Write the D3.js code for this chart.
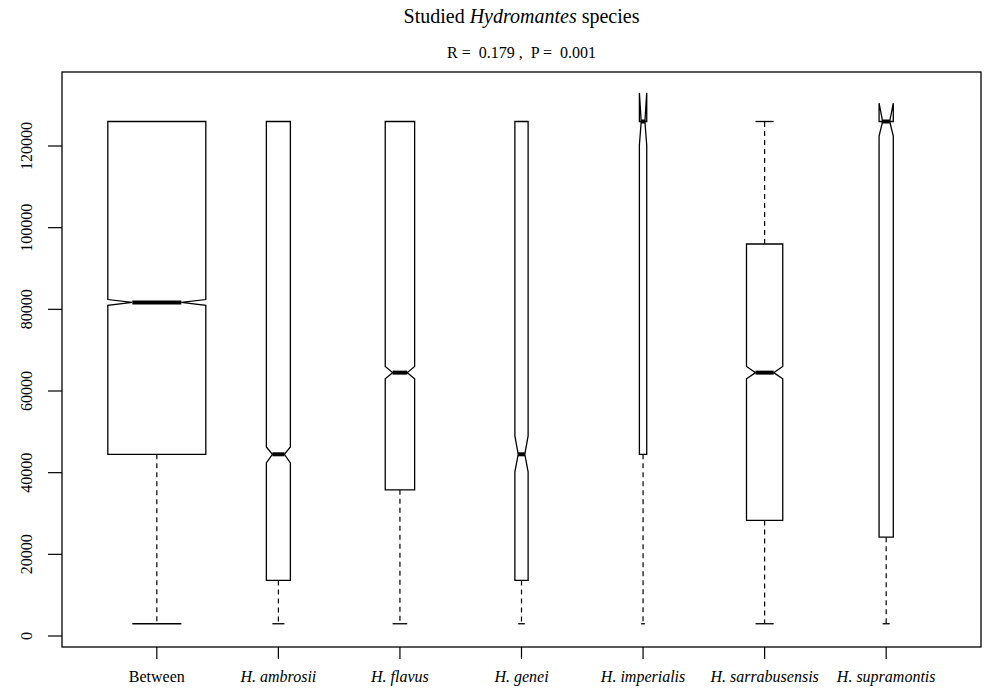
<!DOCTYPE html>
<html><head><meta charset="utf-8">
<script src="https://cdn.jsdelivr.net/npm/d3@7"></script>
<style>body{margin:0;background:#fff}text{font-family:"Liberation Serif","Times New Roman",serif}</style>
</head><body>
<script>
// group labels and summary stats
var groups = ['Between', 'H. ambrosii', 'H. flavus', 'H. genei', 'H. imperialis', 'H. sarrabusensis', 'H. supramontis'];
var lowWhisker = [3000, 3000, 3000, 3000, 3000, 3000, 3000];
var q1 = [44500, 13600, 35800, 13600, 44500, 28300, 24200];
var median = [81700, 44500, 64500, 44500, 126000, 64500, 126000];
var q3 = [126000, 126000, 126000, 126000, 126000, 96000, 126000];
var highWhisker = [126000, 126000, 126000, 126000, 126000, 126000, 126000];
var notchLo = [81000, 42400, 63000, 40200, 120200, 63000, 122400];
var notchHi = [82400, 46300, 66000, 49000, 133000, 66000, 130500];
var relWidth = [1, 0.245, 0.3, 0.135, 0.075, 0.37, 0.145]; // varwidth ~ sqrt(n)
var yTicks = [0, 20000, 40000, 60000, 80000, 100000, 120000];

var W = 994, H = 688, L = 62, R = 981, T = 72, B = 647;
var svg = d3.select('body').append('svg').attr('width', W).attr('height', H);

var x = d3.scaleLinear().domain([0.22, 7.78]).range([L, R]);
var y = d3.scaleLinear().domain([0, 120000]).range([636, 146]);
var maxHalf = 49;

svg.append('rect').attr('x', L).attr('y', T).attr('width', R - L).attr('height', B - T)
    .attr('fill', 'none').attr('stroke', 'black').attr('stroke-width', 1.3);

var t = svg.append('text').attr('x', (L + R) / 2).attr('y', 23).attr('text-anchor', 'middle')
    .attr('font-size', 20);
t.append('tspan').text('Studied ');
t.append('tspan').attr('font-style', 'italic').text('Hydromantes');
t.append('tspan').text(' species');
svg.append('text').attr('x', (L + R) / 2).attr('y', 58).attr('text-anchor', 'middle')
    .attr('font-size', 16).attr('xml:space', 'preserve').text('R =  0.179 ,  P =  0.001');

// y axis ticks (no axis line)
var ya = svg.append('g');
yTicks.forEach(function(v) {
    ya.append('line').attr('x1', L).attr('x2', L - 14).attr('y1', y(v)).attr('y2', y(v)).attr('stroke', 'black').attr('stroke-width', 1.2);
    ya.append('text').attr('transform', 'translate(' + (L - 30) + ',' + y(v) + ') rotate(-90)')
        .attr('text-anchor', 'middle').attr('font-size', 16).text(v);
});

// x axis ticks
var xa = svg.append('g');
groups.forEach(function(g, i) {
    xa.append('line').attr('x1', x(i + 1)).attr('x2', x(i + 1)).attr('y1', B).attr('y2', B + 12).attr('stroke', 'black').attr('stroke-width', 1.2);
    xa.append('text').attr('x', x(i + 1)).attr('y', B + 35).attr('text-anchor', 'middle')
        .attr('font-size', 16).attr('font-style', i === 0 ? 'normal' : 'italic').text(g);
});

// boxes
groups.forEach(function(g, i) {
    var cx = x(i + 1), w = maxHalf * relWidth[i];
    var gg = svg.append('g');
    if (lowWhisker[i] < q1[i]) {
        gg.append('line').attr('x1', cx).attr('x2', cx).attr('y1', y(q1[i])).attr('y2', y(lowWhisker[i]))
            .attr('stroke', 'black').attr('stroke-dasharray', '5,4').attr('stroke-width', 1.2);
        gg.append('line').attr('x1', cx - w / 2).attr('x2', cx + w / 2).attr('y1', y(lowWhisker[i])).attr('y2', y(lowWhisker[i]))
            .attr('stroke', 'black').attr('stroke-width', 1.3);
    }
    if (highWhisker[i] > q3[i]) {
        gg.append('line').attr('x1', cx).attr('x2', cx).attr('y1', y(q3[i])).attr('y2', y(highWhisker[i]))
            .attr('stroke', 'black').attr('stroke-dasharray', '5,4').attr('stroke-width', 1.2);
        gg.append('line').attr('x1', cx - w / 2).attr('x2', cx + w / 2).attr('y1', y(highWhisker[i])).attr('y2', y(highWhisker[i]))
            .attr('stroke', 'black').attr('stroke-width', 1.3);
    }
    var pts = [[cx - w, q1[i]], [cx - w, notchLo[i]], [cx - w / 2, median[i]], [cx - w, notchHi[i]], [cx - w, q3[i]],
               [cx + w, q3[i]], [cx + w, notchHi[i]], [cx + w / 2, median[i]], [cx + w, notchLo[i]], [cx + w, q1[i]]];
    gg.append('path').attr('d', 'M' + pts.map(function(p) { return p[0] + ',' + y(p[1]); }).join('L') + 'Z')
        .attr('fill', 'white').attr('stroke', 'black').attr('stroke-width', 1.3);
    gg.append('line').attr('x1', cx - w / 2).attr('x2', cx + w / 2).attr('y1', y(median[i])).attr('y2', y(median[i]))
        .attr('stroke', 'black').attr('stroke-width', 4);
});
</script>
</body></html>
